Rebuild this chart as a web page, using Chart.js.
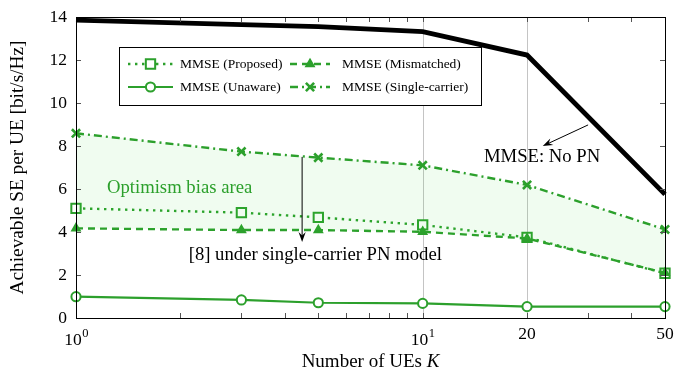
<!DOCTYPE html>
<html>
<head>
<meta charset="utf-8">
<script src="https://cdn.jsdelivr.net/npm/chart.js@4/dist/chart.umd.min.js"></script>
<style>
  html, body { margin: 0; padding: 0; background: #ffffff; }
  #wrap { width: 677px; height: 377px; }
</style>
</head>
<body>
<div id="wrap"><canvas id="c" width="677" height="377"></canvas></div>
<script>
// Number of UEs
const K = [1, 3, 5, 10, 20, 50];

// Achievable SE per UE [bit/s/Hz]
const seNoPN          = [13.85, 13.65, 13.55, 13.32, 12.23, 5.75];
const seProposed      = [5.10, 4.90, 4.68, 4.33, 3.75, 2.08];
const seMismatched    = [4.17, 4.09, 4.09, 4.01, 3.70, 2.10];
const seUnaware       = [0.99, 0.84, 0.71, 0.68, 0.53, 0.53];
const seSingleCarrier = [8.59, 7.74, 7.46, 7.10, 6.19, 4.12];

// Axis ticks
const yTicks = [0, 2, 4, 6, 8, 10, 12, 14];
const xTickValues = [1, 10, 20, 50];
const xTickBases = ['10', '10', '20', '50'];
const xTickExponents = ['0', '1', '', ''];
const xMinorTicks = [2, 3, 4, 5, 6, 7, 8, 9, 20, 30, 40];
const xGridValues = [10, 20];

const GREEN = '#2ca02c';
const SERIF = '"Liberation Serif", "Times New Roman", serif';

const pts = (ys) => K.map((k, i) => ({ x: k, y: ys[i] }));

const datasets = [
  {
    label: 'MMSE: No PN', data: pts(seNoPN),
    borderColor: '#000000', borderWidth: 4.8, pointRadius: 0,
    fill: false, order: 0, inLegend: false
  },
  {
    label: 'MMSE (Proposed)', data: pts(seProposed),
    borderColor: GREEN, borderWidth: 2.4, borderDash: [2.4, 4.6],
    pointStyle: 'rect', pointRadius: 6.6, pointBorderWidth: 2,
    pointBorderColor: GREEN, pointBackgroundColor: '#ffffff',
    fill: false, order: 4, inLegend: true
  },
  {
    label: 'MMSE (Mismatched)', data: pts(seMismatched),
    borderColor: GREEN, borderWidth: 2.4, borderDash: [7, 5],
    pointStyle: 'triangle', pointRadius: 4.8, pointBorderWidth: 1.5,
    pointBorderColor: GREEN, pointBackgroundColor: GREEN,
    fill: false, order: 3, inLegend: true
  },
  {
    label: 'MMSE (Unaware)', data: pts(seUnaware),
    borderColor: GREEN, borderWidth: 2.2,
    pointStyle: 'circle', pointRadius: 4.6, pointBorderWidth: 2,
    pointBorderColor: GREEN, pointBackgroundColor: '#ffffff',
    fill: false, order: 2, inLegend: true
  },
  {
    label: 'MMSE (Single-carrier)', data: pts(seSingleCarrier),
    borderColor: GREEN, borderWidth: 2.4, borderDash: [8, 4, 2, 4],
    pointStyle: 'crossRot', pointRadius: 5.8, pointBorderWidth: 2.6,
    pointBorderColor: GREEN, pointBackgroundColor: GREEN,
    fill: { target: 2 }, backgroundColor: 'rgba(60, 210, 60, 0.075)',
    order: 1, inLegend: true
  }
];
datasets.forEach(d => { d.clip = false; d.tension = 0; d.pointHoverRadius = d.pointRadius; });

function txt(ctx, s, x, y, size, opts = {}) {
  ctx.save();
  ctx.font = (opts.italic ? 'italic ' : '') + size + 'px ' + SERIF;
  ctx.fillStyle = opts.color || '#000000';
  ctx.textAlign = opts.align || 'left';
  ctx.textBaseline = 'middle';
  ctx.translate(x, y);
  if (opts.rotate) ctx.rotate(opts.rotate);
  ctx.fillText(s, 0, 0);
  ctx.restore();
}
function textWidth(ctx, s, size, italic) {
  ctx.save();
  ctx.font = (italic ? 'italic ' : '') + size + 'px ' + SERIF;
  const w = ctx.measureText(s).width;
  ctx.restore();
  return w;
}
function arrow(ctx, x1, y1, x2, y2) {
  const a = Math.atan2(y2 - y1, x2 - x1);
  const len = 10, half = 3.6;
  ctx.save();
  ctx.strokeStyle = '#000'; ctx.fillStyle = '#000'; ctx.lineWidth = 1;
  ctx.beginPath();
  ctx.moveTo(x1, y1);
  ctx.lineTo(x2 - Math.cos(a) * len * 0.6, y2 - Math.sin(a) * len * 0.6);
  ctx.stroke();
  ctx.translate(x2, y2); ctx.rotate(a);
  ctx.beginPath();
  ctx.moveTo(0, 0);
  ctx.lineTo(-len, -half);
  ctx.lineTo(-len * 0.65, 0);
  ctx.lineTo(-len, half);
  ctx.closePath();
  ctx.fill();
  ctx.restore();
}

const frame = {
  id: 'frame',
  beforeDatasetsDraw(chart) {
    const { ctx, chartArea: a, scales: { x } } = chart;
    ctx.save();
    ctx.strokeStyle = '#c4c4c4'; ctx.lineWidth = 1;
    xGridValues.forEach(v => {
      const px = Math.round(x.getPixelForValue(v)) + 0.5;
      ctx.beginPath(); ctx.moveTo(px, a.top); ctx.lineTo(px, a.bottom); ctx.stroke();
    });
    ctx.restore();
  },
  afterDatasetsDraw(chart) {
    const { ctx, chartArea: a, scales: { x, y } } = chart;
    ctx.save();
    // tick marks, inside on all four sides
    ctx.strokeStyle = '#555555'; ctx.lineWidth = 1;
    yTicks.forEach(v => {
      const py = Math.round(y.getPixelForValue(v)) + 0.5;
      ctx.beginPath();
      ctx.moveTo(a.left, py); ctx.lineTo(a.left + 5, py);
      ctx.moveTo(a.right, py); ctx.lineTo(a.right - 5, py);
      ctx.stroke();
    });
    xMinorTicks.concat([10]).forEach(v => {
      const px = Math.round(x.getPixelForValue(v)) + 0.5;
      ctx.beginPath();
      ctx.moveTo(px, a.bottom); ctx.lineTo(px, a.bottom - 5);
      ctx.moveTo(px, a.top); ctx.lineTo(px, a.top + 5);
      ctx.stroke();
    });
    // axis box
    ctx.strokeStyle = '#000000';
    ctx.strokeRect(Math.round(a.left) + 0.5, Math.round(a.top) + 0.5,
      Math.round(a.right - a.left), Math.round(a.bottom - a.top));
    ctx.restore();

    // y tick labels
    yTicks.forEach(v => txt(ctx, String(v), a.left - 9, y.getPixelForValue(v), 17.5, { align: 'right' }));
    // x tick labels
    xTickValues.forEach((v, i) => {
      const px = x.getPixelForValue(v);
      const base = xTickBases[i], ex = xTickExponents[i];
      if (ex) {
        const wb = textWidth(ctx, base, 17.5), we = textWidth(ctx, ex, 12.5);
        const left = px - (wb + we) / 2;
        txt(ctx, base, left, a.bottom + 22, 17.5);
        txt(ctx, ex, left + wb + 0.5, a.bottom + 16, 12.5);
      } else {
        txt(ctx, base, px, a.bottom + 16, 17.5, { align: 'center' });
      }
    });
    // axis titles
    const cx = (a.left + a.right) / 2;
    const t1 = 'Number of UEs ', w1 = textWidth(ctx, t1, 19), w2 = textWidth(ctx, 'K', 19, true);
    txt(ctx, t1, cx - (w1 + w2) / 2, a.bottom + 44, 19);
    txt(ctx, 'K', cx - (w1 + w2) / 2 + w1, a.bottom + 44, 19, { italic: true });
    txt(ctx, 'Achievable SE per UE [bit/s/Hz]', 18, (a.top + a.bottom) / 2, 19.3,
      { align: 'center', rotate: -Math.PI / 2 });

    // annotations
    txt(ctx, 'Optimism bias area', x.getPixelForValue(1.228), y.getPixelForValue(6.05), 18.7, { color: GREEN });
    txt(ctx, 'MMSE: No PN', x.getPixelForValue(22.1), y.getPixelForValue(7.49), 18.7, { align: 'center' });
    txt(ctx, '[8] under single-carrier PN model', x.getPixelForValue(4.9), y.getPixelForValue(2.93), 18.7, { align: 'center' });
    arrow(ctx, x.getPixelForValue(30), y.getPixelForValue(8.98), x.getPixelForValue(22.2), y.getPixelForValue(8.0));
    arrow(ctx, x.getPixelForValue(4.49), y.getPixelForValue(7.49), x.getPixelForValue(4.49), y.getPixelForValue(3.53));

    // legend
    const lx = 119, ly = 47, lw = 362, lh = 58;
    ctx.save();
    ctx.fillStyle = '#ffffff';
    ctx.fillRect(lx, ly, lw, lh);
    ctx.strokeStyle = '#000000'; ctx.lineWidth = 1;
    ctx.strokeRect(lx + 0.5, ly + 0.5, lw, lh);
    ctx.restore();
    const entries = chart.data.datasets.filter(d => d.inLegend);
    const cols = [{ s0: 128, s1: 173, t: 180 }, { s0: 290, s1: 330, t: 342 }];
    const rows = [64, 87];
    entries.forEach((d, i) => {
      const c = cols[i % 2], r = rows[Math.floor(i / 2)];
      ctx.save();
      ctx.strokeStyle = d.borderColor; ctx.lineWidth = d.borderWidth;
      ctx.setLineDash(d.borderDash || []);
      ctx.beginPath(); ctx.moveTo(c.s0, r); ctx.lineTo(c.s1, r); ctx.stroke();
      ctx.setLineDash([]);
      ctx.strokeStyle = d.pointBorderColor; ctx.fillStyle = d.pointBackgroundColor;
      ctx.lineWidth = d.pointBorderWidth;
      Chart.helpers.drawPoint(ctx, {
        pointStyle: d.pointStyle, radius: d.pointRadius, rotation: 0, borderWidth: d.pointBorderWidth
      }, (c.s0 + c.s1) / 2, r);
      ctx.restore();
      txt(ctx, d.label, c.t, r, 13.5);
    });
  }
};

new Chart(document.getElementById('c'), {
  type: 'line',
  data: { datasets },
  options: {
    responsive: false,
    devicePixelRatio: 1,
    animation: false,
    events: [],
    layout: { padding: { left: 76, top: 17, right: 12, bottom: 59 } },
    plugins: { legend: { display: false }, tooltip: { enabled: false }, filler: { propagate: false } },
    scales: {
      x: { type: 'logarithmic', min: 1, max: 50, display: false },
      y: { type: 'linear', min: 0, max: 14, display: false }
    }
  },
  plugins: [frame]
});
</script>
</body>
</html>
